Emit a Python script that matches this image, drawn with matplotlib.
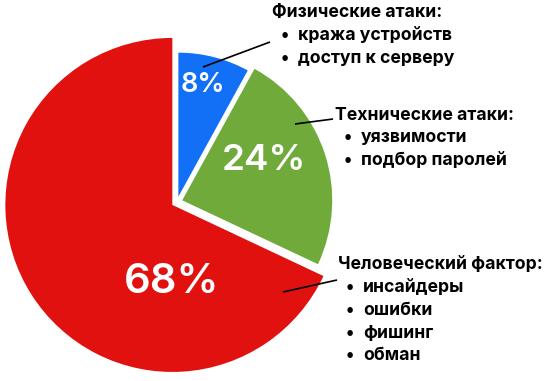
import math
import matplotlib
matplotlib.use("Agg")
import matplotlib.pyplot as plt

# Data
categories = ["Человеческий фактор:", "Технические атаки:", "Физические атаки:"]
values = [68, 24, 8]
pct_labels = ["68%", "24%", "8%"]
details = [
    ["инсайдеры", "ошибки", "фишинг", "обман"],
    ["уязвимости", "подбор паролей"],
    ["кража устройств", "доступ к серверу"],
]
colors = ["#E0110F", "#70AA3A", "#1170F5"]

W, H = 546, 381
fig = plt.figure(figsize=(W / 100, H / 100), dpi=100)
ax = fig.add_axes([0, 0, 1, 1])

def Y(y):
    return H - y

cx, cy = 177, Y(202)
radii = [167, 150, 144]
gap = 5.5

wedges, _ = ax.pie(values, colors=colors, startangle=90, counterclock=True,
                   center=(cx, cy), radius=radii[0],
                   wedgeprops=dict(linewidth=0))
for w, r in zip(wedges, radii):
    tm = math.radians((w.theta1 + w.theta2) / 2)
    w.set_center((cx + gap * math.cos(tm), cy + gap * math.sin(tm)))
    w.set_radius(r)
ax.set_xlim(0, W)
ax.set_ylim(0, H)
ax.set_aspect("auto")
ax.axis("off")

pfam = ["Inter", "DejaVu Sans"]
# percentage labels
pct_pos = [(172, 282, 30), (264, 161, 26.5), (203, 85, 19.5)]
for lab, (x, y, fs) in zip(pct_labels, pct_pos):
    ax.text(x, Y(y), lab, color="white", fontsize=fs, fontfamily=pfam,
            fontweight="semibold", ha="center", va="center")

# leader lines
lines = [((283, 292), (337, 280)), ((295, 124), (333, 119)), ((203, 67), (270, 42))]
for (a, b) in lines:
    ax.plot([a[0], b[0]], [Y(a[1]), Y(b[1])], color="black", lw=1.2,
            solid_capstyle="butt")

# category text blocks
blocks = [(338, 265, 350), (335, 115, 348), (272, 13, 285)]
fs = 12.7
step = 22.7
for cat, items, (hx, hy, bx) in zip(categories, details, blocks):
    ax.text(hx, Y(hy), cat, fontsize=fs, fontfamily=pfam, fontweight="bold",
            ha="left", va="center", color="black")
    for i, it in enumerate(items):
        yy = hy + step * (i + 1)
        ax.text(bx, Y(yy), "•", fontsize=fs, fontfamily=pfam, fontweight="bold",
                ha="center", va="center", color="black")
        ax.text(bx + 13, Y(yy), it, fontsize=fs, fontfamily=pfam,
                fontweight="bold", ha="left", va="center", color="black")

fig.savefig("out.png", dpi=100)
